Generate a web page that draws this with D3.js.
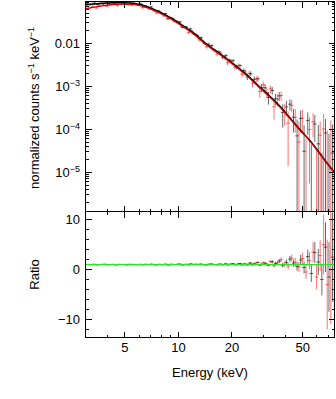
<!DOCTYPE html>
<html><head><meta charset="utf-8">
<script src="https://cdn.jsdelivr.net/npm/d3@7"></script>
<style>body{margin:0;background:#fff}svg{display:block;font-family:"Liberation Sans",Arial,sans-serif}</style>
</head><body><svg id="c" width="336" height="399"></svg>
<script>
// ---- data ----
const energyBlack = [3.07,3.21,3.37,3.52,3.69,3.87,4.05,4.24,4.44,4.65,4.87,5.10,5.34,5.59,5.85,6.13,6.41,6.72,7.03,7.36,7.71,8.07,8.46,8.85,9.27,9.71,10.2,10.6,11.1,11.7,12.2,12.8,13.4,14.0,14.7,15.4,16.1,16.9,17.7,18.5,19.4,20.3,21.2,22.2,23.3,24.4,25.5,26.7,28.0,29.3,30.7,32.1,33.7,35.2,36.9,38.6,40.5,42.4,44.4,46.5,48.7,50.9,53.4,55.9,58.5,61.2,64.1,67.2,70.3,73.6];
const ratioBlack = [1.03,0.97,1.05,0.95,1.01,1.06,0.97,1.03,0.94,1.04,
  1.00,0.93,1.06,1.02,0.96,1.05,0.95,1.01,1.08,0.94,
  1.03,0.97,1.09,0.92,1.04,1.00,1.10,0.91,1.06,1.12,
  0.97,1.04,1.10,0.94,1.05,1.12,0.98,1.07,0.93,1.15,
  1.05,1.18,0.96,1.22,1.10,0.92,1.30,1.15,1.42,1.05,
  1.25,0.88,1.55,1.20,1.70,0.85,1.45,2.10,1.30,0.60,
  1.90,0.40,2.60,-0.80,3.40,1.50,-2.00,4.50,-1.50,2.50];
const errBlack = [0.035,0.035,0.036,0.036,0.037,0.037,0.038,0.038,0.039,0.039,
  0.040,0.040,0.041,0.041,0.042,0.042,0.043,0.044,0.045,0.046,
  0.047,0.048,0.049,0.050,0.052,0.054,0.056,0.058,0.060,0.063,
  0.066,0.069,0.072,0.076,0.080,0.084,0.089,0.094,0.10,0.11,
  0.093,0.10,0.11,0.12,0.13,0.14,0.16,0.18,0.20,0.22,
  0.25,0.28,0.32,0.36,0.41,0.47,0.54,0.62,0.72,0.85,
  1.0,1.2,1.4,1.7,2.1,2.6,3.2,5.0,7.0,9.0];
const energyRed = [3.14,3.29,3.45,3.61,3.78,3.96,4.14,4.34,4.54,4.76,4.98,5.22,5.46,5.72,5.99,6.27,6.56,6.87,7.20,7.54,7.89,8.26,8.65,9.06,9.49,9.94,10.4,10.9,11.4,11.9,12.5,13.1,13.7,14.4,15.0,15.7,16.5,17.3,18.1,18.9,19.8,20.8,21.7,22.8,23.8,25.0,26.1,27.4,28.7,30.0,31.4,32.9,34.5,36.1,37.8,39.6,41.4,43.4,45.4,47.6,49.8,52.2,54.6,57.2,59.9,62.7,65.6,68.7,72.0,75.3];
const ratioRed = [0.97,1.04,0.94,1.02,1.06,0.95,1.00,1.04,0.93,1.02,
  1.06,0.97,0.95,1.04,1.00,0.93,1.08,0.98,1.02,0.92,
  1.06,0.96,0.91,1.08,0.98,1.11,0.94,1.04,0.89,1.09,
  1.08,0.95,1.02,0.90,1.09,1.00,0.92,1.13,1.04,0.89,
  1.12,0.95,1.20,0.88,1.15,1.28,0.90,1.35,0.82,1.40,
  1.10,1.60,0.75,1.35,2.00,1.05,0.70,2.30,1.50,0.50,
  2.20,-0.50,1.80,3.50,-1.50,2.80,5.00,-3.00,1.00,6.00];
const errRed = [0.040,0.040,0.041,0.041,0.042,0.042,0.043,0.043,0.044,0.044,
  0.045,0.045,0.046,0.047,0.048,0.048,0.049,0.050,0.051,0.052,
  0.053,0.054,0.056,0.057,0.059,0.061,0.063,0.066,0.069,0.072,
  0.075,0.079,0.083,0.087,0.092,0.097,0.10,0.11,0.12,0.13,
  0.11,0.12,0.13,0.14,0.15,0.17,0.19,0.21,0.23,0.26,
  0.29,0.33,0.37,0.42,0.48,0.55,0.63,0.73,0.85,1.0,
  1.2,1.4,1.7,2.0,2.5,3.1,6.0,9.0,12.0,14.0];
const modelEnergy = [3.0,3.5,4.0,4.5,5.0,5.5,6.0,6.5,7.0,7.5,8.0,9.0,10.0,11.0,12.0,14.0,17.0,20.0,24.0,28.0,33.0,38.0,42.5,48.0,55.0,60.0,66.0,72.0,76.0];
const modelBlack = [0.079,0.083,0.086,0.087,0.087,0.085,0.080,0.073,0.065,0.058,0.051,0.039,0.030,0.023,0.018,0.0105,0.0058,0.0035,0.0019,0.00105,0.00056,0.00031,0.00018,0.000100,0.000054,0.000034,0.000020,0.0000125,0.0000095];
const modelRed = [0.064,0.071,0.077,0.080,0.081,0.080,0.076,0.069,0.062,0.055,0.0485,0.037,0.0285,0.0219,0.0171,0.0100,0.0055,0.00334,0.00181,0.00100,0.000535,0.000297,0.000173,0.000097,0.000053,0.000033,0.0000196,0.0000123,0.0000094];
const xTickValues = [5,10,20,50];
const xTickLabels = ["5","10","20","50"];
const xMinorValues = [3,4,6,7,8,9,30,40,60,70];
const yTickValues = [0.01,1e-3,1e-4,1e-5];
const yTickLabels = [["0.01",""],["10","−3"],["10","−4"],["10","−5"]];
const rTickValues = [-10,0,10];
const rTickLabels = ["−10","0","10"];

// ---- layout ----
const L=85.5, R=334.5, T=1.5, M=211.5, B=337.5;
const svg = d3.select("#c");
const x = d3.scaleLog().domain([3,75.5]).range([L,R]);
const y = d3.scaleLog().domain([1.22e-6,0.0933]).range([M,T]);
const yr = d3.scaleLinear().domain([-13.68,11.67]).range([B,M]);

function modelAt(E, vals){
  const i = Math.max(1, Math.min(modelEnergy.length-1, d3.bisectLeft(modelEnergy, E)));
  const e0=modelEnergy[i-1], e1=modelEnergy[i], v0=vals[i-1], v1=vals[i];
  const t = Math.log(E/e0)/Math.log(e1/e0);
  return Math.exp(Math.log(v0)+t*Math.log(v1/v0));
}

const defs = svg.append("defs");
defs.append("clipPath").attr("id","cu").append("rect").attr("x",L).attr("y",T).attr("width",R-L).attr("height",M-T);
defs.append("clipPath").attr("id","cl").append("rect").attr("x",L).attr("y",M).attr("width",R-L).attr("height",B-M);

const up = svg.append("g").attr("clip-path","url(#cu)");
const lo = svg.append("g").attr("clip-path","url(#cl)");
const hw = Math.pow(10,0.01);

function drawSet(E, Rt, Er, mv, col, op){
  const gu = up.append("g").attr("stroke",col).attr("stroke-width",0.8).attr("stroke-opacity",op);
  const gl = lo.append("g").attr("stroke",col).attr("stroke-width",0.8).attr("stroke-opacity",op);
  E.forEach((e,i)=>{
    const m = modelAt(e, mv), r = Rt[i], er = Er[i];
    const vlo=(r-er)*m, vhi=(r+er)*m, v=r*m;
    if (vhi>0){
      gu.append("line").attr("x1",x(e)).attr("x2",x(e))
        .attr("y1", vlo>0 ? y(vlo) : M+5).attr("y2", y(vhi));
    }
    if (v>0){
      gu.append("line").attr("x1",x(e/hw)).attr("x2",x(e*hw)).attr("y1",y(v)).attr("y2",y(v));
    }
    gl.append("line").attr("x1",x(e)).attr("x2",x(e)).attr("y1",yr(r-er)).attr("y2",yr(r+er));
    gl.append("line").attr("x1",x(e/hw)).attr("x2",x(e*hw)).attr("y1",yr(r)).attr("y2",yr(r));
  });
}
drawSet(energyBlack, ratioBlack, errBlack, modelBlack, "#000", 0.75);
drawSet(energyRed, ratioRed, errRed, modelRed, "#ff0000", 0.7);

const line = d3.line().x(d=>x(d[0])).y(d=>y(d[1])).curve(d3.curveMonotoneX);
up.append("path").datum(modelEnergy.map((e,i)=>[e,modelBlack[i]])).attr("d",line)
  .attr("fill","none").attr("stroke","#000").attr("stroke-width",1.6);
up.append("path").datum(modelEnergy.map((e,i)=>[e,modelRed[i]])).attr("d",line)
  .attr("fill","none").attr("stroke","#dd0000").attr("stroke-width",1.2);

lo.append("line").attr("x1",L).attr("x2",R).attr("y1",yr(1)).attr("y2",yr(1))
  .attr("stroke","#33dd33").attr("stroke-width",1.3);

// ---- frames & ticks ----
const ax = svg.append("g").attr("stroke","#000").attr("stroke-width",1).attr("fill","none").attr("shape-rendering","crispEdges");
ax.append("rect").attr("x",L).attr("y",T).attr("width",R-L).attr("height",M-T);
ax.append("rect").attr("x",L).attr("y",M).attr("width",R-L).attr("height",B-M);
const MAJ=6, MIN=3;
function xt(v,len){
  [[T,1],[M,-1],[M,1],[B,-1]].forEach(([yy,d])=>{
    ax.append("line").attr("x1",x(v)).attr("x2",x(v)).attr("y1",yy).attr("y2",yy+d*len);
  });
}
xTickValues.forEach(v=>xt(v,MAJ));
xMinorValues.forEach(v=>xt(v,MIN));
function yt(py,len){
  ax.append("line").attr("x1",L).attr("x2",L+len).attr("y1",py).attr("y2",py);
  ax.append("line").attr("x1",R).attr("x2",R-len).attr("y1",py).attr("y2",py);
}
yTickValues.forEach(v=>yt(y(v),MAJ));
y.ticks().filter(v=>!yTickValues.some(t=>Math.abs(t-v)/t<1e-6)).forEach(v=>yt(y(v),MIN));
rTickValues.forEach(v=>yt(yr(v),MAJ));
d3.range(-12,12,2).filter(v=>!rTickValues.includes(v)).forEach(v=>yt(yr(v),MIN));

// ---- labels ----
const txt = svg.append("g").attr("fill","#000").attr("font-size",13);
xTickValues.forEach((v,i)=>{
  txt.append("text").attr("x",x(v)).attr("y",352).attr("text-anchor","middle").text(xTickLabels[i]);
});
txt.append("text").attr("x",(L+R)/2).attr("y",377).attr("text-anchor","middle").text("Energy (keV)");
yTickValues.forEach((v,i)=>{
  const t = txt.append("text").attr("x",80).attr("y",y(v)+4.5).attr("text-anchor","end");
  t.append("tspan").text(yTickLabels[i][0]);
  if (yTickLabels[i][1]) t.append("tspan").attr("dy",-5).attr("font-size",9).text(yTickLabels[i][1]);
});
rTickValues.forEach((v,i)=>{
  txt.append("text").attr("x",80).attr("y",yr(v)+4.5).attr("text-anchor","end").text(rTickLabels[i]);
});
const yl = txt.append("text").attr("transform","translate(39,108) rotate(-90)").attr("text-anchor","middle");
yl.append("tspan").text("normalized counts s");
yl.append("tspan").attr("dy",-5).attr("font-size",9).text("−1");
yl.append("tspan").attr("dy",5).text(" keV");
yl.append("tspan").attr("dy",-5).attr("font-size",9).text("−1");
txt.append("text").attr("transform",`translate(39,${(M+B)/2}) rotate(-90)`).attr("text-anchor","middle").text("Ratio");
</script></body></html>
